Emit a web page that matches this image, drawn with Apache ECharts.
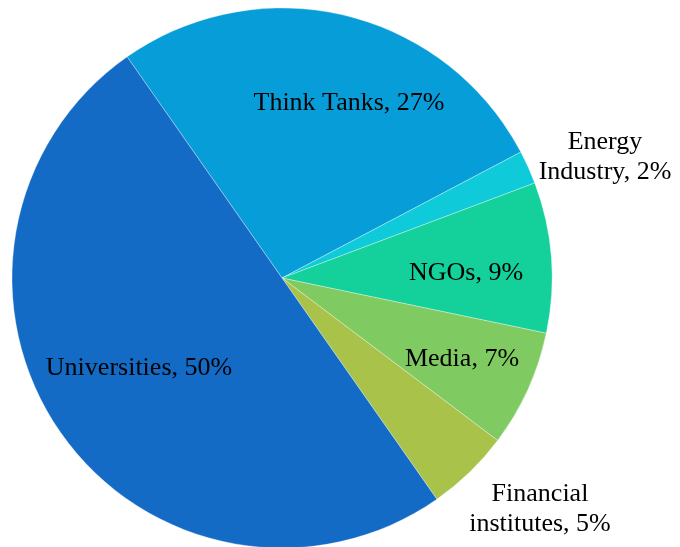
<!DOCTYPE html>
<html>
<head>
<meta charset="utf-8">
<script src="https://cdn.jsdelivr.net/npm/echarts@6/dist/echarts.min.js"></script>
<style>
  html, body { margin: 0; padding: 0; background: #fff; }
  #chart { width: 680px; height: 547px; }
</style>
</head>
<body>
<div id="chart"></div>
<script>
// Sector shares (percent), clockwise from the upper-left boundary
const categories = ['Think Tanks', 'Energy\nIndustry', 'NGOs', 'Media', 'Financial\ninstitutes', 'Universities'];
const shares = [27, 2, 9, 7, 5, 50];
const colors = ['#079DD9', '#0FCBD9', '#14D09A', '#7FCB62', '#A9C24A', '#136BC6'];

// label anchor points (px) for each slice
const labelSpots = [
  [349, 103],
  [605, 157],
  [466, 273],
  [462, 359],
  [540, 509],
  [139, 368]
];

const chart = echarts.init(document.getElementById('chart'), null, { renderer: 'canvas' });

chart.setOption({
  animation: false,
  backgroundColor: '#ffffff',
  series: [{
    type: 'pie',
    center: [282, 278],
    radius: 270,
    startAngle: 125,
    clockwise: true,
    avoidLabelOverlap: false,
    data: categories.map((name, i) => ({
      name: name,
      value: shares[i],
      itemStyle: { color: colors[i] }
    })),
    itemStyle: { borderColor: 'rgba(255,255,255,0.55)', borderWidth: 0.6 },
    label: {
      show: true,
      position: 'inside',
      formatter: p => p.name + ', ' + p.value + '%',
      fontFamily: '"Liberation Serif", "Times New Roman", serif',
      fontSize: 26,
      lineHeight: 30,
      color: '#000',
      align: 'center'
    },
    labelLine: { show: false },
    labelLayout: function (params) {
      const s = labelSpots[params.dataIndex];
      return { x: s[0], y: s[1], align: 'center', verticalAlign: 'middle' };
    },
    emphasis: { disabled: true }
  }]
});
</script>
</body>
</html>
